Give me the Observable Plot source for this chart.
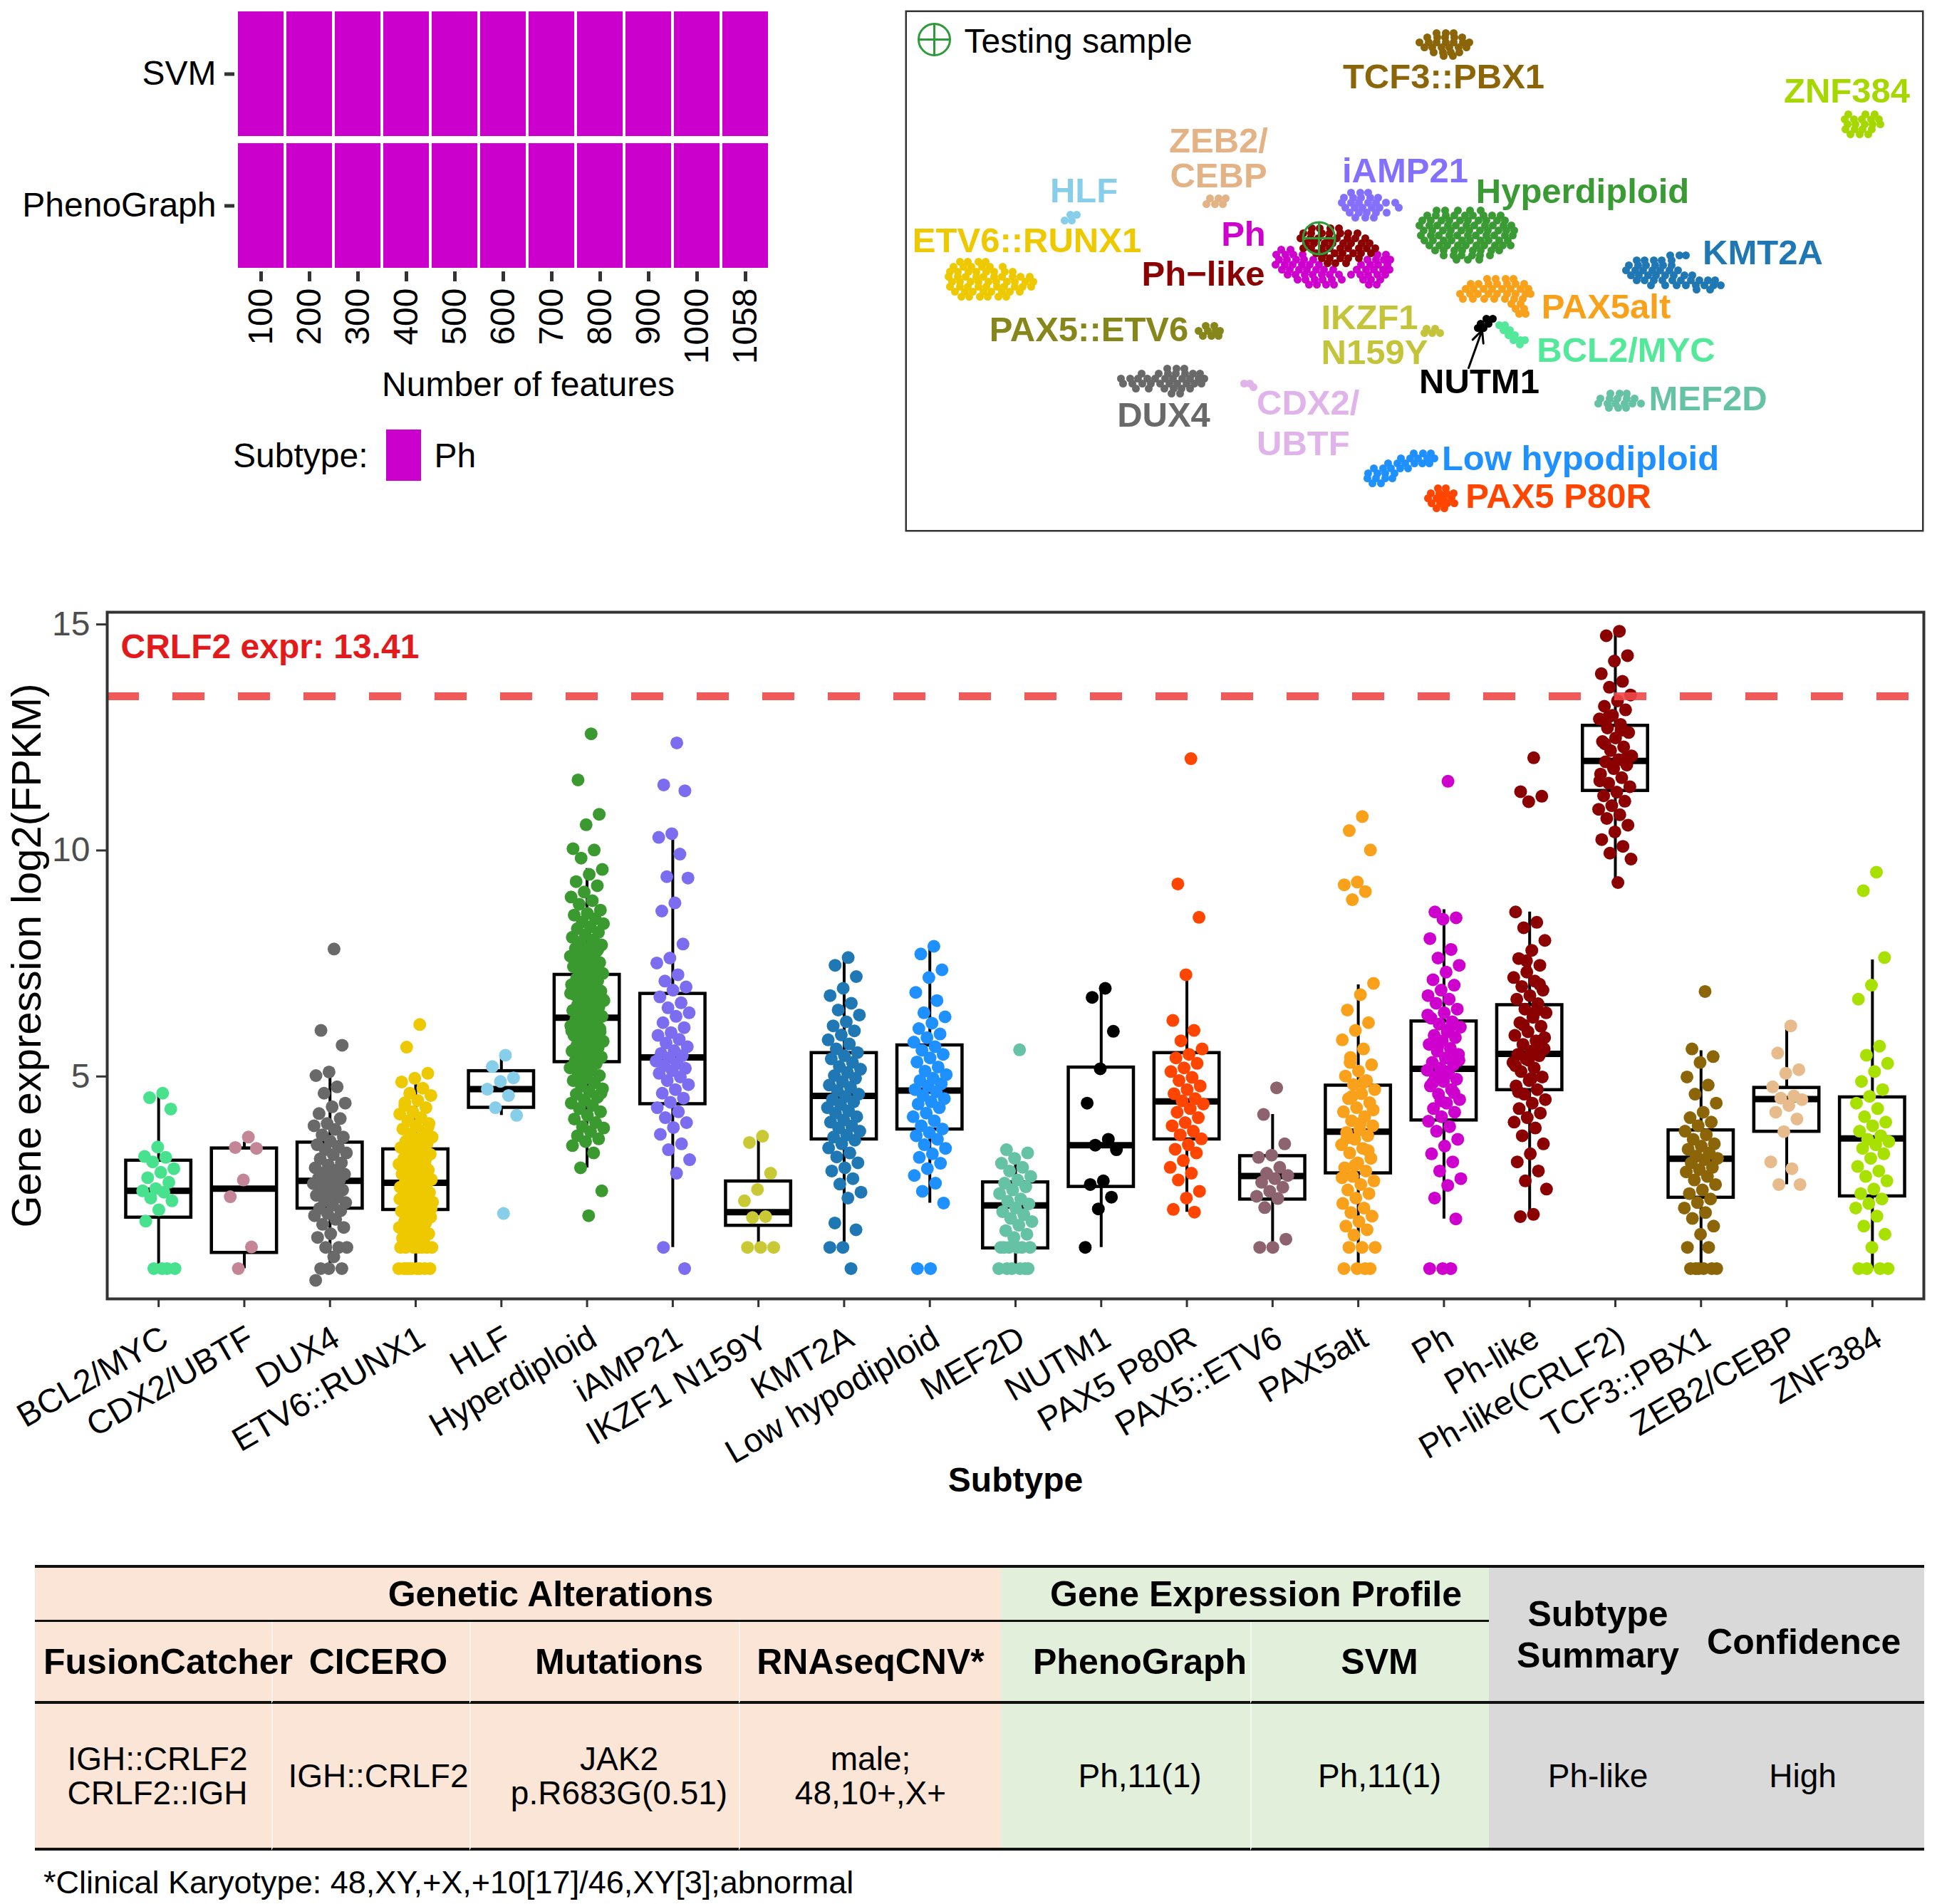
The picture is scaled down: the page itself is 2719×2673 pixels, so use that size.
<!DOCTYPE html>
<html><head><meta charset="utf-8">
<script src="https://cdn.jsdelivr.net/npm/d3@7"></script>
<script src="https://cdn.jsdelivr.net/npm/@observablehq/plot@0.6"></script>
<style>
html,body{margin:0;padding:0;background:#fff;}
#page{position:relative;width:2719px;height:2673px;overflow:hidden;font-family:"Liberation Sans",Arial,sans-serif;color:#000;}
.abs{position:absolute;}
.abs svg{max-width:none !important;display:block;}
#heat-legend{left:327px;top:603px;height:72px;display:flex;align-items:center;font-size:48px;}
#heat-legend .sw{display:inline-block;width:49px;height:72px;margin:0 18px 0 26px;}
#tbl{position:absolute;left:49px;top:2197px;width:2652px;border-collapse:separate;border-spacing:0;table-layout:fixed;}
#tbl th,#tbl td{padding:0;text-align:center;vertical-align:middle;white-space:nowrap;overflow:visible;}
#tbl th{font-weight:bold;font-size:50px;}
#tbl td{font-size:46px;line-height:48px;}
#footnote{left:61px;top:2617px;font-size:45px;line-height:52px;white-space:nowrap;}
</style></head>
<body><div id="page">
<div id="heat" class="abs" style="left:0;top:0;width:1110px;height:570px;"></div>
<div id="heat-legend" class="abs"></div>
<div id="tsne" class="abs" style="left:1270px;top:14px;width:1430px;height:732px;"></div>
<div id="box" class="abs" style="left:0;top:800px;width:2719px;height:1320px;"></div>
<table id="tbl"></table>
<div id="footnote" class="abs"></div>
</div>
<script>
// ---------------- Heatmap data ----------------
const featureCounts = ["100","200","300","400","500","600","700","800","900","1000","1058"];
const methods = ["SVM","PhenoGraph"];
const svmCalls = ["Ph","Ph","Ph","Ph","Ph","Ph","Ph","Ph","Ph","Ph","Ph"];
const phenoGraphCalls = ["Ph","Ph","Ph","Ph","Ph","Ph","Ph","Ph","Ph","Ph","Ph"];
const legendSubtypes = ["Ph"];
const heatColors = ["#CC00CC"];

// ---------------- tSNE data (cluster rows: [tSNE2, [tSNE1 ...]]) ----------------
const tsne_TCF3_PBX1 = [[70.0,[74.6,75.9,77.0]],[69.4,[73.3,74.7,75.8,77.1,78.2]],[68.7,[72.2,73.5,74.6,75.9,77.0,78.3,79.2]],[68.0,[72.9,74.0,75.3,76.4,77.7,78.8]],[67.3,[74.2,75.5,76.6,77.8]],[66.8,[75.6,76.9]]];
const tsne_ZNF384 = [[58.6,[132.4,134.8,136.1]],[57.9,[131.9,133.2,134.3,135.6,136.7]],[57.2,[132.3,133.4,134.7,135.8,136.9]],[56.5,[132.0,133.3,134.4,135.7]],[55.8,[132.7,134.0,135.2]]];
const tsne_ZEB2_CEBP = [[46.8,[42.8,44.0,45.0]],[46.0,[42.3,43.5,44.6]]];
const tsne_HLF = [[44.5,[23.2,24.1]],[43.7,[22.4,23.4]]];
const tsne_iAMP21 = [[47.6,[62.6,63.9,65.0]],[46.9,[61.6,62.9,64.0,65.3,66.4]],[46.2,[61.3,62.6,63.7,65.0,66.1,67.5,68.8]],[45.5,[61.8,63.1,64.2,65.5,66.6,69.3]],[44.8,[62.4,63.7,64.8,66.1,67.6]],[44.1,[63.2,64.6,65.8]]];
const tsne_Hyperdiploid = [[45.1,[74.6,75.8,77.6,79.3,80.8]],[44.4,[73.3,74.5,75.9,77.1,78.6,79.7,81.2,82.4,83.6]],[43.7,[72.6,73.8,75.3,76.4,77.9,79.0,80.5,81.6,83.1,84.2]],[43.0,[72.2,73.6,74.7,76.2,77.3,78.8,79.9,81.4,82.5,84.0,85.1]],[42.3,[72.8,74.0,75.5,76.6,78.1,79.2,80.7,81.8,83.3,84.4,85.5]],[41.6,[72.4,73.8,74.9,76.4,77.5,79.0,80.1,81.6,82.7,84.2,85.3]],[40.9,[72.9,74.1,75.6,76.7,78.2,79.3,80.8,81.9,83.4,84.6]],[40.2,[73.6,75.0,76.1,77.6,78.7,80.2,81.3,82.8,83.9,85.0]],[39.5,[74.4,75.6,77.1,78.2,79.7,80.8,82.3,83.4]],[38.8,[75.6,77.0,78.1,79.6,80.7,82.1]],[38.2,[77.4,79.0,80.6]]];
const tsne_ETV6_RUNX1 = [[37.9,[7.7,8.8,10.3,11.3]],[37.2,[6.8,8.2,9.3,10.8,11.9,13.7]],[36.5,[6.3,7.4,8.9,10.0,11.4,12.5,14.0,15.1]],[35.8,[6.1,7.4,8.5,10.0,11.0,12.5,13.6,15.1,16.2,17.5]],[35.1,[6.6,7.7,9.2,10.3,11.7,12.8,14.3,15.4,16.9,18.0]],[34.4,[6.3,7.7,8.8,10.3,11.4,12.9,13.9,15.4,16.5,17.7]],[33.7,[7.0,8.4,9.5,11.0,12.1,13.6,14.7,16.1]],[33.0,[7.9,9.0,10.5,11.6,13.1,14.2]]];
const tsne_Ph = [[39.6,[52.8,54.1]],[38.9,[52.1,53.4,54.5,55.8,66.3,67.5]],[38.2,[52.5,53.6,54.9,56.0,57.3,64.9,66.1,67.2,68.1]],[37.5,[52.0,53.3,54.4,55.7,56.8,58.1,64.0,65.3,66.4,67.7]],[36.8,[52.9,54.0,55.3,56.4,57.7,58.8,60.1,63.4,64.7,65.8,67.1,68.0]],[36.1,[53.7,54.8,56.1,57.2,58.5,59.6,60.9,62.6,63.9,65.0,66.3,67.4]],[35.4,[55.1,56.2,57.5,58.6,59.9,61.3,64.3,65.4,66.7]],[34.7,[56.7,57.8,59.1,60.2,65.1,66.2]]];
const tsne_Ph_like = [[42.6,[57.1,58.2,59.7,60.9]],[41.9,[55.9,57.0,58.5,59.6,61.1,62.2,63.5]],[41.2,[55.5,56.9,58.0,59.5,60.6,62.1,63.2,64.6]],[40.5,[56.3,57.4,58.9,60.0,61.5,62.6,64.1,65.2]],[39.8,[55.9,57.0,58.5,59.6,61.1,62.2,63.7,64.8,66.0]],[39.1,[57.7,58.8,60.3,61.4,62.9,64.0,65.4]],[38.4,[58.5,59.6,61.1,62.2,63.7]],[37.7,[59.3,60.4,61.9]]];
const tsne_KMT2A = [[38.8,[107.4,108.7,109.6]],[38.1,[102.7,103.8,105.1,106.2,107.6]],[37.4,[101.6,102.9,104.0,105.3,106.4,107.6]],[36.7,[101.2,102.5,103.6,104.9,106.0,107.3,108.5]],[36.0,[101.9,103.0,104.3,105.4,106.7,107.9,109.4,110.5]],[35.3,[102.7,103.8,105.1,106.3,107.7,108.9,110.3,111.5,112.7,113.7]],[34.6,[104.7,106.7,108.3,109.6,111.0,112.2,113.5,114.5]],[34.0,[111.1,113.0]]];
const tsne_PAX5alt = [[35.5,[81.7,82.9,84.3,85.4]],[34.8,[79.4,80.5,81.9,83.1,84.5,85.7,86.9]],[34.1,[78.7,79.8,81.2,82.4,83.8,85.0,86.4,87.5]],[33.4,[77.9,79.3,80.4,81.9,83.1,84.5,85.7,87.1,87.8]],[32.7,[78.3,79.7,81.3,82.7,84.2,85.5,86.7]],[32.0,[85.1,86.4]],[31.3,[85.7,86.9]],[30.6,[86.2,87.1]]];
const tsne_PAX5_ETV6 = [[28.9,[42.2,43.4]],[28.2,[41.2,42.5,43.6,44.2]],[27.5,[41.8,43.0,44.0]]];
const tsne_IKZF1_N159Y = [[28.5,[73.2,74.4]],[27.9,[72.9,74.0,75.1]]];
const tsne_NUTM1 = [[29.9,[81.6,82.5]],[29.2,[80.8,81.9]],[28.6,[80.4,81.2]]];
const tsne_BCL2_MYC = [[29.0,[83.4,84.2]],[28.3,[84.0,84.9]],[27.6,[84.7,85.6]],[26.9,[85.4,86.4,87.0]],[26.3,[86.3]]];
const tsne_MEF2D = [[19.4,[99.0,100.3,101.3]],[18.7,[97.6,98.9,100.0,101.3,102.4]],[18.0,[97.3,98.6,99.7,101.0,102.1,103.3]],[17.4,[98.8,100.1,101.2]]];
const tsne_DUX4 = [[22.9,[36.8,38.1,39.2]],[22.2,[33.2,35.6,36.9,38.0,39.3,40.4,41.4]],[21.5,[30.3,31.6,32.7,34.0,35.1,36.5,37.6,38.9,40.0,41.2,42.0]],[20.8,[30.6,31.9,33.3,34.5,35.8,37.1,38.2,39.5,40.6,41.6]],[20.1,[32.4,34.2,36.4,37.7,38.8,40.0]],[19.4,[37.4,38.6]]];
const tsne_CDX2_UBTF = [[20.8,[47.6,48.4]],[20.3,[48.9]]];
const tsne_Low_hypodiploid = [[11.0,[71.4,72.7,73.8]],[10.3,[69.6,70.9,72.0,73.3,74.3]],[9.6,[67.8,69.1,70.2,71.5,72.6,73.6]],[8.9,[65.8,67.1,68.2,69.5,70.6]],[8.2,[65.0,66.3,67.4,68.7]],[7.5,[64.9,66.1,67.4,68.4]],[6.8,[65.6,66.8]]];
const tsne_PAX5_P80R = [[6.1,[74.8,75.9]],[5.4,[73.8,75.0,76.0,77.0]],[4.7,[73.4,74.6,75.6,76.7]],[4.0,[73.9,75.1,76.1,77.1]],[3.3,[74.6,75.7]]];
const testingSample = [{u: 58.1, v: 41.2}];
const tsneGroups = ["TCF3::PBX1","ZNF384","ZEB2/CEBP","HLF","iAMP21","Hyperdiploid","ETV6::RUNX1","Ph","Ph-like","KMT2A","PAX5alt","PAX5::ETV6","IKZF1 N159Y","NUTM1","BCL2/MYC","MEF2D","DUX4","CDX2/UBTF","Low hypodiploid","PAX5 P80R"];
const tsneColors = ["#8B6508","#A6D800","#E3B386","#87CEEB","#8470FF","#3A9A33","#EEC900","#CD00CD","#8B0000","#1F78B4","#F9A11B","#86861A","#C4C43A","#000000","#54E89A","#66C2A5","#696969","#E0B4EA","#1E90FF","#FF4500"];
const tsneClusters = [["TCF3::PBX1",tsne_TCF3_PBX1],["ZNF384",tsne_ZNF384],["ZEB2/CEBP",tsne_ZEB2_CEBP],["HLF",tsne_HLF],["iAMP21",tsne_iAMP21],["Hyperdiploid",tsne_Hyperdiploid],["ETV6::RUNX1",tsne_ETV6_RUNX1],["Ph",tsne_Ph],["Ph-like",tsne_Ph_like],["KMT2A",tsne_KMT2A],["PAX5alt",tsne_PAX5alt],["PAX5::ETV6",tsne_PAX5_ETV6],["IKZF1 N159Y",tsne_IKZF1_N159Y],["NUTM1",tsne_NUTM1],["BCL2/MYC",tsne_BCL2_MYC],["MEF2D",tsne_MEF2D],["DUX4",tsne_DUX4],["CDX2/UBTF",tsne_CDX2_UBTF],["Low hypodiploid",tsne_Low_hypodiploid],["PAX5 P80R",tsne_PAX5_P80R]];
// [label text, group, tSNE1, tSNE2, line height]
const tsneLabelsCentered = [["TCF3::PBX1","TCF3::PBX1",75.6,63.8,1],["ZNF384","ZNF384",132.2,61.8,1],["ZEB2/\nCEBP","ZEB2/CEBP",44.0,52.4,1.02],["HLF","HLF",25.1,47.8,1],["iAMP21","iAMP21",70.2,50.6,1],["Hyperdiploid","Hyperdiploid",95.1,47.7,1],["ETV6::RUNX1","ETV6::RUNX1",17.1,40.8,1],["Ph","Ph",47.5,41.7,1],["Ph\u2212like","Ph-like",41.85,36.1,1],["KMT2A","KMT2A",120.4,39.1,1],["PAX5alt","PAX5alt",98.4,31.5,1],["PAX5::ETV6","PAX5::ETV6",25.8,28.3,1],["BCL2/MYC","BCL2/MYC",101.2,25.4,1],["NUTM1","NUTM1",80.6,21.0,1],["MEF2D","MEF2D",112.7,18.6,1],["DUX4","DUX4",36.3,16.3,1],["Low hypodiploid","Low hypodiploid",94.8,10.25,1],["PAX5 P80R","PAX5 P80R",91.7,4.9,1]];
const tsneLabelsLeft = [["IKZF1\nN159Y","IKZF1 N159Y",58.4,27.6,1.02],["CDX2/\nUBTF","CDX2/UBTF",49.35,15.45,1.16]];
const tsneArrows = [{x1: 79.1, y1: 23.0, x2: 81.0, y2: 28.3}];

// ---------------- Box plot data ----------------
const subtypes = ["BCL2/MYC","CDX2/UBTF","DUX4","ETV6::RUNX1","HLF","Hyperdiploid","iAMP21","IKZF1 N159Y","KMT2A","Low hypodiploid","MEF2D","NUTM1","PAX5 P80R","PAX5::ETV6","PAX5alt","Ph","Ph-like","Ph-like(CRLF2)","TCF3::PBX1","ZEB2/CEBP","ZNF384"];
const boxColors = ["#48E28F","#C48597","#696969","#EEC900","#87CEEB","#3A9A30","#7B6CF0","#C9C935","#1F78B4","#1E90FF","#66C2A5","#000000","#FF4500","#8C636E","#F9A11B","#CD00CD","#8B0000","#8B0000","#8B6508","#E8BB8C","#A8E000"];
const boxQ1 =       [1.88,1.10,2.08,2.05,4.31,5.32,4.39,1.70,3.61,3.83,1.20,2.56,3.61,2.28,2.86,4.03,4.70,11.32,2.32,3.78,2.35];
const boxMedian =   [2.47,2.52,2.69,2.65,4.72,6.30,5.42,2.00,4.57,4.69,2.15,3.48,4.45,2.80,3.78,5.17,5.50,11.98,3.18,4.50,3.63];
const boxQ3 =       [3.14,3.41,3.54,3.39,5.12,7.25,6.83,2.68,5.52,5.69,2.66,5.20,5.52,3.24,4.80,6.22,6.58,12.76,3.81,4.75,4.54];
const whiskerLow =  [0.75,0.75,0.75,0.75,4.14,2.98,1.22,1.22,1.22,2.20,0.75,1.22,2.00,1.22,0.75,1.85,1.90,9.29,0.75,2.61,0.75];
const whiskerHigh = [4.63,3.55,5.00,5.05,5.45,9.60,10.32,3.66,7.68,7.88,3.21,6.95,7.25,4.16,7.03,8.69,8.64,14.82,5.57,6.07,7.58];
const crlf2Expr = 13.41;
const expr_BCL2_MYC = [4.63,4.53,4.28,3.44,3.23,3.21,3.11,2.96,2.88,2.76,2.66,2.52,2.47,2.44,2.31,2.25,2.05,1.8,0.75,0.75,0.75,0.75];
const expr_CDX2_UBTF = [3.66,3.43,3.41,2.71,2.34,1.23,0.75];
const expr_DUX4 = [7.82,6.02,5.69,5.1,5.02,4.77,4.63,4.41,4.33,4.18,4.07,3.96,3.91,3.83,3.71,3.66,3.57,3.49,3.44,3.38,3.31,3.27,3.18,3.09,3.04,2.98,2.93,2.87,2.84,2.79,2.74,2.71,2.68,2.63,2.58,2.52,2.49,2.43,2.37,2.33,2.26,2.21,2.16,2.08,2.03,1.97,1.92,1.84,1.73,1.66,1.52,1.44,1.22,1.22,1.22,1.01,0.75,0.75,0.75,0.49];
const expr_ETV6_RUNX1 = [6.15,5.65,5.07,4.96,4.88,4.74,4.63,4.58,4.47,4.36,4.31,4.22,4.17,4.09,4.02,3.96,3.91,3.84,3.79,3.73,3.66,3.61,3.57,3.52,3.46,3.43,3.37,3.33,3.28,3.24,3.19,3.14,3.11,3.06,3.02,2.97,2.93,2.89,2.84,2.81,2.77,2.72,2.69,2.66,2.62,2.58,2.55,2.51,2.47,2.43,2.38,2.36,2.31,2.27,2.22,2.19,2.14,2.11,2.06,2.02,1.98,1.93,1.89,1.84,1.79,1.76,1.71,1.66,1.62,1.57,1.52,1.47,1.42,1.37,1.31,1.22,1.22,1.22,1.22,1.22,1.22,1.22,0.75,0.75,0.75,0.75,0.75,0.75,0.75,0.75,0.75,3.88,3.48,3.09,2.74,2.41,2.08,1.74,4.42,2.98,2.57,2.29];
const expr_HLF = [5.47,5.22,4.97,4.89,4.72,4.58,4.31,4.14,1.97];
const expr_Hyperdiploid = [12.58,11.56,10.8,10.57,10.04,10.01,9.83,9.58,9.47,9.31,9.22,9.08,8.97,8.89,8.81,8.68,8.61,8.57,8.49,8.42,8.38,8.31,8.27,8.19,8.13,8.08,8.02,7.97,7.91,7.86,7.83,7.77,7.72,7.66,7.61,7.58,7.52,7.46,7.43,7.37,7.31,7.28,7.22,7.17,7.12,7.08,7.03,6.98,6.94,6.89,6.86,6.81,6.77,6.72,6.68,6.63,6.59,6.54,6.51,6.46,6.42,6.38,6.33,6.29,6.26,6.21,6.17,6.12,6.08,6.04,5.99,5.95,5.91,5.86,5.82,5.78,5.73,5.69,5.64,5.61,5.56,5.52,5.47,5.43,5.38,5.34,5.29,5.24,5.19,5.13,5.08,5.02,4.97,4.91,4.86,4.79,4.73,4.66,4.61,4.54,4.48,4.41,4.36,4.29,4.22,4.14,4.06,3.98,3.89,3.86,3.78,3.69,3.62,3.56,3.47,3.31,2.98,2.47,1.92,7.64,7.34,7.06,6.84,6.57,6.31,6.06,5.84,5.59,5.41,5.16,6.71,6.24,5.93,7.81,7.49,6.01,5.49,4.88,4.63];
const expr_iAMP21 = [12.38,11.45,11.32,10.37,10.29,9.92,9.42,9.39,8.84,8.66,7.93,7.62,7.51,7.25,7.11,6.98,6.91,6.76,6.63,6.52,6.41,6.33,6.19,6.08,5.97,5.91,5.82,5.74,5.66,5.57,5.51,5.46,5.41,5.34,5.29,5.24,5.18,5.13,5.07,4.99,4.91,4.82,4.71,4.63,4.52,4.43,4.31,4.22,4.09,3.98,3.87,3.72,3.51,3.38,3.16,2.86,1.22,0.75];
const expr_IKZF1_N159Y = [3.68,3.54,2.86,2.5,2.25,1.9,1.88,1.22,1.22,1.22];
const expr_KMT2A = [7.63,7.46,7.21,6.95,6.79,6.62,6.47,6.36,6.21,6.12,6.01,5.92,5.81,5.72,5.61,5.53,5.46,5.39,5.31,5.22,5.16,5.09,5.02,4.96,4.89,4.81,4.76,4.69,4.61,4.56,4.49,4.44,4.38,4.31,4.24,4.19,4.11,4.04,3.99,3.91,3.86,3.79,3.71,3.66,3.59,3.51,3.42,3.31,3.22,3.09,2.98,2.91,2.74,2.62,2.44,2.31,1.76,1.61,1.22,1.22,0.75];
const expr_Low_hypodiploid = [7.88,7.71,7.36,7.19,6.86,6.68,6.41,6.32,6.18,6.06,5.94,5.86,5.76,5.66,5.58,5.49,5.41,5.32,5.21,5.12,5.04,4.96,4.91,4.84,4.79,4.71,4.66,4.58,4.51,4.44,4.39,4.31,4.19,4.11,4.02,3.91,3.84,3.76,3.69,3.61,3.49,3.41,3.29,3.21,3.08,2.96,2.81,2.64,2.46,2.2,0.75,0.75];
const expr_MEF2D = [5.59,3.38,3.31,3.19,3.08,2.99,2.91,2.79,2.71,2.64,2.56,2.49,2.41,2.29,2.24,2.18,2.09,2.01,1.94,1.86,1.79,1.71,1.59,1.51,1.44,1.22,1.22,1.22,1.22,1.22,1.22,0.75,0.75,0.75,0.75,0.75,0.75];
const expr_NUTM1 = [6.95,6.75,6.0,5.17,4.41,3.61,3.48,3.38,2.69,2.61,2.33,2.07,1.22];
const expr_PAX5_P80R = [12.03,9.26,8.52,7.25,6.24,6.02,5.79,5.61,5.49,5.41,5.29,5.19,5.11,4.98,4.91,4.79,4.71,4.62,4.51,4.46,4.39,4.29,4.21,4.09,3.98,3.91,3.79,3.71,3.62,3.49,3.39,3.31,3.14,2.99,2.86,2.71,2.46,2.31,2.06,2.0];
const expr_PAX5_ETV6 = [4.75,4.16,3.51,3.26,3.21,2.99,2.86,2.81,2.74,2.66,2.55,2.46,2.35,2.3,2.1,1.4,1.22,1.22];
const expr_PAX5alt = [10.75,10.44,10.01,9.3,9.24,9.09,8.91,7.06,6.81,6.47,6.19,6.02,5.81,5.61,5.42,5.26,5.12,5.01,4.91,4.82,4.71,4.62,4.51,4.42,4.31,4.22,4.11,4.02,3.91,3.82,3.76,3.69,3.61,3.49,3.41,3.31,3.19,3.09,2.98,2.91,2.79,2.69,2.61,2.49,2.41,2.31,2.19,2.09,1.99,1.91,1.79,1.69,1.61,1.49,1.22,1.22,1.22,0.75,0.75,0.75,0.75,4.56,4.26,3.96,3.64,3.36,3.04,2.76,4.86,5.31];
const expr_Ph = [11.53,8.64,8.51,8.48,8.05,7.81,7.62,7.46,7.31,7.14,7.02,6.91,6.79,6.71,6.62,6.49,6.41,6.29,6.21,6.16,6.09,5.99,5.91,5.86,5.79,5.71,5.62,5.56,5.49,5.41,5.31,5.26,5.19,5.14,5.09,4.99,4.94,4.89,4.79,4.71,4.61,4.49,4.41,4.29,4.21,4.11,4.01,3.89,3.79,3.61,3.46,3.29,3.11,2.91,2.74,2.59,2.31,1.85,0.75,0.75,0.75,5.66,5.36,5.04,4.86,4.64,4.46,6.36,6.04,5.76,5.44];
const expr_Ph_like = [12.05,11.3,11.2,11.08,8.64,8.41,8.29,8.01,7.79,7.61,7.46,7.31,7.19,7.11,6.99,6.91,6.79,6.71,6.61,6.49,6.41,6.31,6.19,6.11,5.99,5.91,5.79,5.71,5.61,5.56,5.49,5.46,5.39,5.31,5.19,5.11,4.99,4.91,4.79,4.71,4.61,4.49,4.41,4.29,4.19,4.09,3.99,3.86,3.69,3.51,3.29,3.11,2.91,2.69,2.51,1.95,1.9,5.66,5.36,5.24,6.46,6.14,5.86,4.96,4.66,7.04,7.56];
const expr_Ph_like_CRLF2 = [14.85,14.75,14.31,14.19,13.91,13.74,13.61,13.44,13.31,13.19,13.11,12.99,12.91,12.79,12.71,12.61,12.49,12.41,12.29,12.21,12.09,12.01,11.96,11.89,11.81,11.69,11.61,11.49,11.41,11.29,11.21,11.09,10.99,10.91,10.79,10.71,10.56,10.41,10.24,10.09,9.94,9.81,9.29,12.36,12.04,11.86,11.54,12.66,12.94];
const expr_TCF3_PBX1 = [6.88,5.61,5.44,5.31,4.99,4.81,4.61,4.41,4.21,4.09,3.99,3.91,3.79,3.71,3.61,3.51,3.46,3.39,3.31,3.24,3.19,3.16,3.09,2.99,2.94,2.89,2.79,2.71,2.61,2.49,2.41,2.29,2.21,2.09,1.99,1.86,1.69,1.51,1.22,1.22,0.75,0.75,0.75,0.75,0.75,0.75];
const expr_ZEB2_CEBP = [6.12,5.52,5.15,5.07,4.77,4.57,4.52,4.49,4.36,4.21,4.06,3.78,3.11,2.96,2.61,2.61];
const expr_ZNF384 = [9.52,9.11,7.63,7.02,6.71,5.67,5.47,5.29,5.11,4.89,4.71,4.56,4.41,4.29,4.11,3.99,3.91,3.79,3.69,3.61,3.56,3.49,3.41,3.29,3.19,3.01,2.91,2.79,2.69,2.51,2.41,2.29,2.19,2.09,1.91,1.69,1.51,1.22,0.75,0.75,0.75,0.75];
const exprBySubtype = [expr_BCL2_MYC,expr_CDX2_UBTF,expr_DUX4,expr_ETV6_RUNX1,expr_HLF,expr_Hyperdiploid,expr_iAMP21,expr_IKZF1_N159Y,expr_KMT2A,expr_Low_hypodiploid,expr_MEF2D,expr_NUTM1,expr_PAX5_P80R,expr_PAX5_ETV6,expr_PAX5alt,expr_Ph,expr_Ph_like,expr_Ph_like_CRLF2,expr_TCF3_PBX1,expr_ZEB2_CEBP,expr_ZNF384];

// ---------------- Table data ----------------
const tableGroups = [["Genetic Alterations",4,"#FBE5D6"],["Gene Expression Profile",2,"#E2EFDA"]];
const tableColumns = ["FusionCatcher","CICERO","Mutations","RNAseqCNV*","PhenoGraph","SVM","Subtype\nSummary","Confidence"];
const tableValues = ["IGH::CRLF2\nCRLF2::IGH","IGH::CRLF2","JAK2\np.R683G(0.51)","male;\n48,10+,X+","Ph,11(1)","Ph,11(1)","Ph-like","High"];
const tableColBg = ["#FBE5D6","#FBE5D6","#FBE5D6","#FBE5D6","#E2EFDA","#E2EFDA","#D9D9D9","#D9D9D9"];
const footnoteText = "*Clinical Karyotype: 48,XY,+X,+10[17]/46,XY[3];abnormal";

const FONT = "'Liberation Sans', Arial, sans-serif";

// ================= Heatmap =================
const heatData = [];
methods.forEach((m, i) => {
  const calls = i === 0 ? svmCalls : phenoGraphCalls;
  featureCounts.forEach((f, j) => heatData.push({method: m, features: f, subtype: calls[j]}));
});
document.getElementById("heat").append(Plot.plot({
  width: 1110, height: 570,
  marginLeft: 329, marginRight: 27, marginTop: 10, marginBottom: 189,
  style: {fontFamily: FONT, background: "transparent", overflow: "visible"},
  x: {domain: featureCounts, padding: 0, axis: null},
  y: {domain: methods, padding: 0, axis: null},
  color: {domain: legendSubtypes, range: heatColors},
  marks: [
    Plot.cell(heatData, {x: "features", y: "method", fill: "subtype", insetLeft: 2, insetRight: 2, insetTop: 5, insetBottom: 5}),
    Plot.axisY({fontSize: 48, tickSize: 14, tickPadding: 12, stroke: "#333", strokeWidth: 5, fill: "black", label: null}),
    Plot.axisX({tickSize: 14, stroke: "#333", strokeWidth: 5, tickFormat: () => "", label: null}),
    Plot.text(featureCounts, {x: d => d, text: d => d, frameAnchor: "bottom", dy: 23, rotate: -90, textAnchor: "end", lineAnchor: "middle", fontSize: 48}),
    Plot.text(["Number of features"], {text: d => d, frameAnchor: "bottom", dx: 35, dy: 159, fontSize: 48, textAnchor: "middle", lineAnchor: "middle"})
  ]
}));
document.getElementById("heat-legend").innerHTML = "<span>Subtype:</span>" +
  legendSubtypes.map((s, i) => `<span class="sw" style="background:${heatColors[i]}"></span><span>${s}</span>`).join("");

// ================= tSNE =================
const tsnePoints = tsneClusters.flatMap(([g, rows]) => rows.flatMap(([v, us]) => us.map(u => ({group: g, u, v}))));
const circlePlus = {
  draw(ctx, size) {
    const r = Math.sqrt(size / Math.PI);
    ctx.moveTo(r, 0); ctx.arc(0, 0, r, 0, 2 * Math.PI);
    ctx.moveTo(-r, 0); ctx.lineTo(r, 0);
    ctx.moveTo(0, -r); ctx.lineTo(0, r);
  }
};
const labelMarks = (rows, anchor) => [1, 1.02, 1.16].map(lh => Plot.text(rows.filter(d => d[4] === lh), {
  x: d => d[2], y: d => d[3], text: d => d[0], fill: d => d[1], fontSize: 49, fontWeight: "bold",
  textAnchor: anchor, lineAnchor: "middle", lineHeight: lh
}));
document.getElementById("tsne").append(Plot.plot({
  width: 1430, height: 732, margin: 0,
  style: {fontFamily: FONT, background: "transparent", overflow: "visible"},
  x: {domain: [0, 143], axis: null},
  y: {domain: [0, 73.2], axis: null},
  color: {domain: tsneGroups, range: tsneColors},
  marks: [
    Plot.dot(tsnePoints, {x: "u", y: "v", fill: "group", r: 5.5}),
    ...labelMarks(tsneLabelsCentered, "middle"),
    ...labelMarks(tsneLabelsLeft, "start"),
    Plot.arrow(tsneArrows, {x1: "x1", y1: "y1", x2: "x2", y2: "y2", stroke: "black", strokeWidth: 3, headLength: 22, headAngle: 50}),
    Plot.dot(testingSample, {x: "u", y: "v", r: 22.5, symbol: circlePlus, stroke: "#2E9A3A", strokeWidth: 3, fill: "none"}),
    Plot.dot(["Testing sample"], {frameAnchor: "top-left", dx: 41, dy: 41, r: 22, symbol: circlePlus, stroke: "#2E9A3A", strokeWidth: 3, fill: "none"}),
    Plot.text(["Testing sample"], {text: d => d, frameAnchor: "top-left", dx: 83, dy: 44, textAnchor: "start", lineAnchor: "middle", fontSize: 48}),
    Plot.frame({stroke: "#333", strokeWidth: 2.5, inset: 1.25})
  ]
}));

// ================= Box plot =================
const boxRows = subtypes.map((s, i) => ({i, s, q1: boxQ1[i], med: boxMedian[i], q3: boxQ3[i], lo: whiskerLow[i], hi: whiskerHigh[i]}));
const jitter = k => ((((k + 1) * 0.6180339887) % 1) - 0.5) * 0.4;
const exprPoints = subtypes.flatMap((s, i) => exprBySubtype[i].map((v, k) => ({s, v, x: i + jitter(k)})));
const halfBox = 0.38;
document.getElementById("box").append(Plot.plot({
  width: 2719, height: 1320,
  marginTop: 59, marginBottom: 297, marginLeft: 150, marginRight: 19,
  style: {fontFamily: FONT, background: "transparent", overflow: "visible"},
  x: {domain: [-0.6, 20.6], axis: null},
  y: {domain: [0.08, 15.27], axis: null},
  color: {domain: subtypes, range: boxColors},
  marks: [
    Plot.ruleX(boxRows, {x: "i", y1: "lo", y2: "hi", stroke: "black", strokeWidth: 4}),
    Plot.rect(boxRows, {x1: d => d.i - halfBox, x2: d => d.i + halfBox, y1: "q1", y2: "q3", fill: "white", stroke: "black", strokeWidth: 4.5}),
    Plot.ruleY(boxRows, {x1: d => d.i - halfBox, x2: d => d.i + halfBox, y: "med", stroke: "black", strokeWidth: 9}),
    Plot.dot(exprPoints, {x: "x", y: "v", fill: "s", r: 9}),
    Plot.ruleY([crlf2Expr], {stroke: "#F04848", strokeOpacity: 0.9, strokeWidth: 11, strokeDasharray: "45,47"}),
    Plot.frame({stroke: "#333", strokeWidth: 4}),
    Plot.axisY({ticks: [5, 10, 15], tickSize: 15, tickPadding: 9, fontSize: 48, fill: "#4D4D4D", stroke: "#333", strokeWidth: 3, label: null}),
    Plot.axisX({ticks: subtypes.map((s, i) => i), tickSize: 12, tickFormat: () => "", stroke: "#333", strokeWidth: 3, label: null}),
    Plot.text(boxRows, {x: "i", text: "s", frameAnchor: "bottom", dy: 35, rotate: -30, textAnchor: "end", lineAnchor: "top", fontSize: 47, fill: "black"}),
    Plot.text(["Gene expression log2(FPKM)"], {text: d => d, frameAnchor: "left", dx: -112, rotate: -90, fontSize: 58, textAnchor: "middle", lineAnchor: "middle"}),
    Plot.text([crlf2Expr], {text: d => `CRLF2 expr: ${d}`, frameAnchor: "top-left", dx: 19, dy: 49, textAnchor: "start", lineAnchor: "middle", fontWeight: "bold", fontSize: 48, fill: "#E31A1C"}),
    Plot.text(["Subtype"], {text: d => d, frameAnchor: "bottom", dy: 255, fontWeight: "bold", fontSize: 48, textAnchor: "middle", lineAnchor: "middle"})
  ]
}));

// ================= Table =================
const colWidths = [332, 278, 378, 368, 350, 335, 306, 305];
const padL = [12, 20, 40, 0, 40, 26, 0, 0];
const padR = [0, 0, 0, 0, 0, 0, 0, 36];
const sep = [false, true, true, true, false, true, false, false];
const tbl = document.getElementById("tbl");
const esc = s => s.replace(/&/g, "&amp;").replace(/</g, "&lt;").replace(/\n/g, "<br>");
let html = "<colgroup>" + colWidths.map(w => `<col style="width:${w}px">`).join("") + "</colgroup>";
html += `<tr style="height:80px">`;
html += `<th colspan="${tableGroups[0][1]}" style="background:${tableGroups[0][2]};border-top:4px solid #111;border-bottom:3px solid #111;padding-left:92px;">${esc(tableGroups[0][0])}</th>`;
html += `<th colspan="${tableGroups[1][1]}" style="background:${tableGroups[1][2]};border-top:4px solid #111;border-bottom:3px solid #111;padding-left:31px;">${esc(tableGroups[1][0])}</th>`;
html += `<th rowspan="2" style="background:${tableColBg[6]};border-top:4px solid #111;border-bottom:4px solid #111;line-height:58px;">${esc(tableColumns[6])}</th>`;
html += `<th rowspan="2" style="background:${tableColBg[7]};border-top:4px solid #111;border-bottom:4px solid #111;padding-right:36px;padding-top:20px;">${esc(tableColumns[7])}</th>`;
html += `</tr><tr style="height:115px">`;
for (let c = 0; c < 6; c++) {
  html += `<th style="background:${tableColBg[c]};border-bottom:4px solid #111;padding-left:${padL[c]}px;padding-right:${padR[c]}px;text-align:${c === 0 ? "left" : "center"};${sep[c] ? "border-left:2px solid rgba(255,255,255,0.55);" : ""}">${esc(tableColumns[c])}</th>`;
}
html += `</tr><tr style="height:206px">`;
for (let c = 0; c < 8; c++) {
  html += `<td style="background:${tableColBg[c]};border-bottom:4px solid #111;padding-left:${padL[c]}px;padding-right:${padR[c]}px;${sep[c] ? "border-left:2px solid rgba(255,255,255,0.55);" : ""}">${esc(tableValues[c])}</td>`;
}
html += `</tr>`;
tbl.innerHTML = html;
document.getElementById("footnote").textContent = footnoteText;
</script>
</body></html>
